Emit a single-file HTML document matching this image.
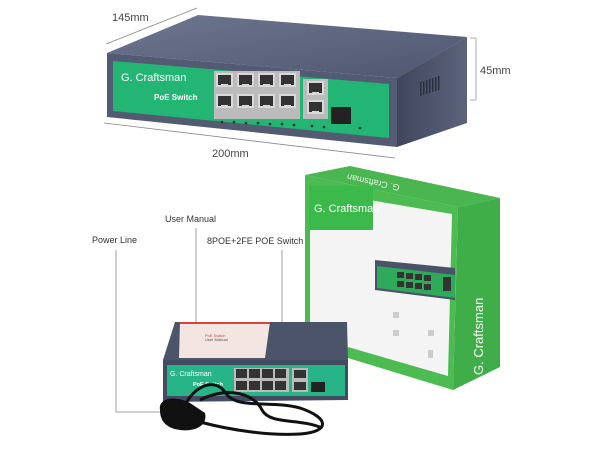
<!DOCTYPE html>
<html><head><meta charset="utf-8"><style>
html,body{margin:0;padding:0;background:#fff;}
svg{display:block}
text{font-family:"Liberation Sans",sans-serif;}
</style></head><body>
<svg width="600" height="450" viewBox="0 0 600 450" xmlns="http://www.w3.org/2000/svg">
<defs>
<linearGradient id="top" x1="0" y1="0" x2="1" y2="1"><stop offset="0" stop-color="#6f7790"/><stop offset="1" stop-color="#4e5670"/></linearGradient>
<linearGradient id="side" x1="0" y1="0" x2="1" y2="0"><stop offset="0" stop-color="#3f465c"/><stop offset="1" stop-color="#5c647c"/></linearGradient>
<g id="port"><rect width="17" height="14" fill="#d8d8d8"/><rect x="2" y="2" width="13" height="10" fill="#333"/><rect x="5" y="11" width="7" height="3" fill="#d8d8d8"/></g>
</defs>

<line x1="106" y1="44" x2="197" y2="8" stroke="#888" stroke-width="0.8"/>
<line x1="104" y1="123" x2="395" y2="158" stroke="#888" stroke-width="0.8"/>
<line x1="476" y1="38" x2="476" y2="100" stroke="#999" stroke-width="0.8"/>
<line x1="470" y1="38" x2="476" y2="38" stroke="#999" stroke-width="0.8"/>
<line x1="470" y1="100" x2="476" y2="100" stroke="#999" stroke-width="0.8"/>
<text x="112" y="21" font-size="11" fill="#444">145mm</text>
<text x="480" y="74" font-size="11" fill="#444">45mm</text>
<text x="212" y="157" font-size="11" fill="#444">200mm</text>

<polygon points="107,53 198,15 467,37 397,78" fill="url(#top)"/>
<polygon points="397,78 467,37 467,123 397,147" fill="url(#side)"/>
<polygon points="107,53 397,78 397,147 107,117" fill="#535b73"/>
<polygon points="113,61 389,84 389,138 113,111" fill="#22b573"/>
<g fill="#2c3140">
<rect x="420" y="82" width="1.5" height="14"/><rect x="423" y="81" width="1.5" height="14"/><rect x="426" y="80" width="1.5" height="14"/><rect x="429" y="79" width="1.5" height="14"/><rect x="432" y="78" width="1.5" height="14"/><rect x="435" y="77" width="1.5" height="14"/><rect x="438" y="76" width="1.5" height="14"/>
</g>
<text x="121" y="81" font-size="11" fill="#fff">G. Craftsman</text>
<text x="154" y="100" font-size="8" fill="#fff" font-weight="bold">PoE Switch</text>
<rect x="214" y="71" width="86" height="48" fill="#bbb"/>
<use href="#port" x="216" y="73"/><use href="#port" x="237" y="73"/><use href="#port" x="258" y="73"/><use href="#port" x="279" y="73"/>
<use href="#port" x="216" y="94"/><use href="#port" x="237" y="94"/><use href="#port" x="258" y="94"/><use href="#port" x="279" y="94"/>
<rect x="303" y="79" width="25" height="40" fill="#bbb"/>
<use href="#port" x="307" y="81"/><use href="#port" x="307" y="100"/>
<rect x="331" y="107" width="20" height="17" fill="#222"/>
<g fill="#1b2a22"><circle cx="222" cy="122" r="1.3"/><circle cx="234" cy="122" r="1.3"/><circle cx="246" cy="123" r="1.3"/><circle cx="258" cy="123" r="1.3"/><circle cx="270" cy="124" r="1.3"/><circle cx="282" cy="124" r="1.3"/><circle cx="294" cy="125" r="1.3"/><circle cx="312" cy="126" r="1.3"/><circle cx="324" cy="127" r="1.3"/><circle cx="360" cy="128" r="1.3"/></g>

<!-- box -->
<polygon points="305,175 350,166 500,198 458,207" fill="#49b64f"/>
<text x="400" y="185" font-size="9" fill="#e8f5e8" transform="rotate(192 400 185)">G. Craftsman</text>
<polygon points="458,207 500,198 500,367 453,390" fill="#3fae48"/>
<polygon points="305,175 458,207 453,390 305,345" fill="#4cbc52"/>
<polygon points="310,190 452,214 448,376 310,336" fill="#f4f4f4"/>
<rect x="309" y="186" width="64" height="44" fill="#3cb94b"/>
<text x="314" y="212" font-size="11" fill="#fff">G. Craftsman</text>
<text x="483" y="375" font-size="13" fill="#fff" transform="rotate(-90 483 375)">G. Craftsman</text>
<polygon points="375,260 455,268 455,300 375,290" fill="#4a5268"/>
<polygon points="377,266 455,275 455,298 377,288" fill="#2faa5a"/>
<g fill="#333"><rect x="397" y="272" width="7" height="6"/><rect x="406" y="273" width="7" height="6"/><rect x="415" y="274" width="7" height="6"/><rect x="424" y="275" width="7" height="6"/><rect x="397" y="281" width="7" height="6"/><rect x="406" y="282" width="7" height="6"/><rect x="415" y="283" width="7" height="6"/><rect x="424" y="284" width="7" height="6"/><rect x="443" y="277" width="8" height="14"/></g>
<rect x="393" y="312" width="6" height="6" fill="#ccc"/><rect x="393" y="330" width="6" height="6" fill="#ccc"/><rect x="428" y="330" width="6" height="6" fill="#ccc"/><rect x="428" y="350" width="5" height="8" fill="#ccc"/>

<text x="165" y="222" font-size="9" fill="#333">User Manual</text>
<text x="92" y="243" font-size="9" fill="#333">Power Line</text>
<text x="207" y="244" font-size="9" fill="#333">8POE+2FE POE Switch</text>
<polyline points="116,250 116,412 162,412" fill="none" stroke="#888" stroke-width="0.8"/>
<line x1="196" y1="228" x2="196" y2="322" stroke="#888" stroke-width="0.8"/>
<line x1="282" y1="250" x2="282" y2="322" stroke="#888" stroke-width="0.8"/>

<polygon points="175,322 347,322 348,360 163,360" fill="#4c5469"/>
<polygon points="180,322 270,322 265,358 179,358" fill="#f3e6e2"/>
<rect x="180" y="322" width="90" height="2" fill="#d9433a"/>
<text x="205" y="337" font-size="4" fill="#c44">PoE Switch</text>
<text x="205" y="341" font-size="4" fill="#555">User Manual</text>
<polygon points="163,360 348,360 348,400 163,402" fill="#434b62"/>
<rect x="167" y="365" width="178" height="31" fill="#27b486"/>
<text x="170" y="376" font-size="7" fill="#fff">G. Craftsman</text>
<text x="193" y="386" font-size="5.5" fill="#fff" font-weight="bold">PoE Switch</text>
<rect x="234" y="368" width="55" height="24" fill="#bbb"/>
<g fill="#333"><rect x="236" y="369" width="11" height="9"/><rect x="249" y="369" width="11" height="9"/><rect x="262" y="369" width="11" height="9"/><rect x="275" y="369" width="11" height="9"/><rect x="236" y="381" width="11" height="9"/><rect x="249" y="381" width="11" height="9"/><rect x="262" y="381" width="11" height="9"/><rect x="275" y="381" width="11" height="9"/></g>
<rect x="292" y="368" width="16" height="24" fill="#bbb"/>
<rect x="294" y="370" width="12" height="8" fill="#333"/><rect x="294" y="382" width="12" height="8" fill="#333"/>
<rect x="311" y="382" width="14" height="10" fill="#222"/>

<g fill="none" stroke="#111" stroke-width="3">
<path d="M185,405 C195,385 215,378 225,392 C235,410 270,400 300,408 C330,418 330,432 300,434 C270,436 230,430 200,422"/>
<path d="M200,400 C230,385 255,395 262,410 C270,425 300,418 322,428"/>
</g>
<path d="M160,410 C158,398 175,395 190,403 L205,413 C208,425 196,432 180,430 C165,428 160,420 160,410Z" fill="#111"/>
</svg>
</body></html>
